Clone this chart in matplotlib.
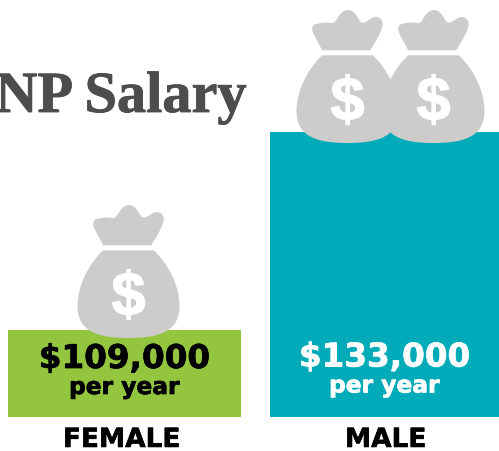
import matplotlib
matplotlib.use('Agg')
import matplotlib.pyplot as plt
from matplotlib.patches import PathPatch
from matplotlib.path import Path
import matplotlib.patheffects as pe
import numpy as np

categories = ['FEMALE', 'MALE']
salaries = [109000, 133000]
# высота столбцов на картинке не пропорциональна зарплате
bar_heights = [87, 285]

BAR_COLORS = ['#93c63e', '#00abb9']
VALUE_COLORS = ['#000000', '#ffffff']
BAG_COLOR = '#cdcccb'
TITLE_COLOR = '#4d4d4f'

M, L, C = Path.MOVETO, Path.LINETO, Path.CURVE4


def draw_bag(ax, cx, bottom):
    """Мешок с деньгами: координаты в пикселях от центра низа мешка"""
    knot = [
        (M, -25.3, 92.7),
        (L, -33.5, 108), (C, -36, 113), (C, -36, 117), (C, -33, 118.5),
        (C, -28, 120.5), (C, -21, 121), (C, -17, 120),
        (C, -12, 119), (C, -11, 124), (C, -8, 128),
        (C, -5, 132), (C, -2, 133), (C, 1, 133),
        (C, 5, 133), (C, 8, 129), (C, 10, 126),
        (C, 12, 122), (C, 13, 120), (C, 16, 120.5),
        (C, 20, 121), (C, 24, 126), (C, 28, 126),
        (C, 33, 126), (C, 36, 122), (C, 35, 117),
        (C, 34, 112), (C, 31, 107), (C, 29, 103),
        (L, 22.7, 92.7), (L, -25.3, 92.7),
    ]
    body = [
        (M, -25.3, 87.7), (L, 25.3, 87.7),
        (C, 40, 74), (C, 51, 52), (C, 51, 32),
        (C, 51, 6), (C, 30, 0), (C, 0, 0),
        (C, -30, 0), (C, -51, 6), (C, -51, 32),
        (C, -51, 52), (C, -40, 74), (C, -25.3, 87.7),
    ]
    for part in (knot, body):
        codes = [p[0] for p in part]
        verts = [(cx + p[1], bottom + p[2]) for p in part]
        ax.add_patch(PathPatch(Path(verts, codes), fc=BAG_COLOR, ec='none', zorder=3))
    ax.text(cx, bottom + 45, '$', color='white', fontsize=44, fontweight='bold',
            family='Liberation Sans', ha='center', va='center_baseline', zorder=4,
            path_effects=[pe.withStroke(linewidth=1.0, foreground='white')])


fig = plt.figure(figsize=(4.99, 4.51), dpi=100)
ax = fig.add_axes([0, 0, 1, 1])
ax.set_xlim(0, 499)
ax.set_ylim(0, 451)
ax.axis('off')

base = 34
centers = np.array([124.5, 384.5])
widths = [233, 229]
ax.bar(centers, bar_heights, width=widths, bottom=base, color=BAR_COLORS, zorder=2)

ax.text(247, 339, 'NP Salary', color=TITLE_COLOR, fontsize=42, fontweight='bold',
        family='Liberation Serif', ha='right', va='baseline',
        path_effects=[pe.withStroke(linewidth=0.6, foreground=TITLE_COLOR)])

draw_bag(ax, 128.5, 113)
draw_bag(ax, 347.5, 308)
draw_bag(ax, 433.5, 308)

label_x = [121.5, 385.5]
value_lift = [0, 1.5]
for i, cat in enumerate(categories):
    heavy = [pe.withStroke(linewidth=0.5, foreground=VALUE_COLORS[i])]
    value_text = '${:,}'.format(salaries[i])
    ax.text(centers[i], 83 + value_lift[i], value_text, color=VALUE_COLORS[i],
            fontsize=23.5, fontweight='bold', ha='center', va='baseline', zorder=5,
            path_effects=heavy)
    ax.text(centers[i], 57 + value_lift[i], 'per year', color=VALUE_COLORS[i],
            fontsize=16.8, fontweight='bold', ha='center', va='baseline', zorder=5,
            path_effects=heavy)
    ax.text(label_x[i], 4, cat, color='black', fontsize=19, fontweight='bold',
            ha='center', va='baseline',
            path_effects=[pe.withStroke(linewidth=0.4, foreground='black')])

fig.savefig('out.png', dpi=100)
